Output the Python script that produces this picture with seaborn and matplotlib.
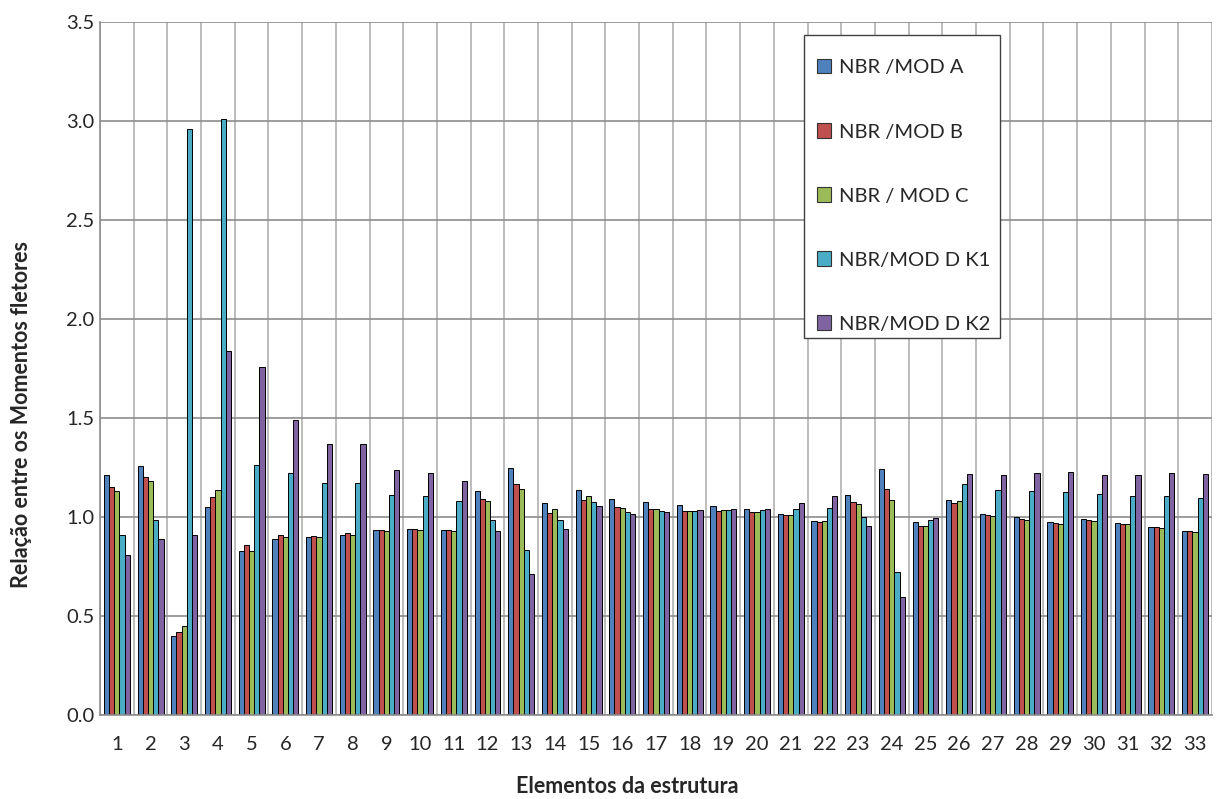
import numpy as np
import pandas as pd
import matplotlib
matplotlib.use("Agg")
import matplotlib.pyplot as plt
from matplotlib.patches import Rectangle
import seaborn as sns

elements = [str(i) for i in range(1, 34)]
series_names = ["NBR /MOD A", "NBR /MOD B", "NBR / MOD C", "NBR/MOD D K1", "NBR/MOD D K2"]

mod_a = [1.21, 1.26, 0.40, 1.05, 0.83, 0.89, 0.90, 0.91, 0.935, 0.94, 0.935,
         1.13, 1.25, 1.07, 1.135, 1.09, 1.075, 1.06, 1.055, 1.04, 1.018, 0.98,
         1.11, 1.245, 0.975, 1.086, 1.018, 0.998, 0.975, 0.99, 0.97, 0.951, 0.931]
mod_b = [1.15, 1.20, 0.42, 1.10, 0.86, 0.91, 0.905, 0.92, 0.935, 0.94, 0.935,
         1.09, 1.165, 1.02, 1.085, 1.05, 1.04, 1.03, 1.03, 1.028, 1.008, 0.975,
         1.075, 1.143, 0.955, 1.07, 1.008, 0.99, 0.97, 0.985, 0.965, 0.951, 0.931]
mod_c = [1.13, 1.18, 0.45, 1.135, 0.83, 0.90, 0.90, 0.91, 0.93, 0.935, 0.93,
         1.08, 1.14, 1.04, 1.105, 1.047, 1.04, 1.03, 1.035, 1.028, 1.008, 0.98,
         1.065, 1.086, 0.955, 1.08, 1.003, 0.985, 0.965, 0.98, 0.965, 0.946, 0.926]
mod_d_k1 = [0.91, 0.985, 2.96, 3.01, 1.265, 1.22, 1.17, 1.17, 1.11, 1.105, 1.08,
            0.985, 0.835, 0.985, 1.075, 1.027, 1.03, 1.03, 1.035, 1.035, 1.04, 1.047,
            0.998, 0.724, 0.985, 1.168, 1.135, 1.13, 1.125, 1.115, 1.105, 1.105, 1.095]
mod_d_k2 = [0.81, 0.89, 0.91, 1.84, 1.76, 1.49, 1.37, 1.37, 1.24, 1.22, 1.18,
            0.93, 0.71, 0.94, 1.055, 1.013, 1.028, 1.035, 1.04, 1.04, 1.07, 1.105,
            0.955, 0.594, 0.993, 1.215, 1.21, 1.224, 1.229, 1.21, 1.21, 1.22, 1.215]

colors = ["#4F81BD", "#C0504D", "#9BBB59", "#4BACC6", "#8064A2"]

df = pd.DataFrame({
    "Elemento": elements * 5,
    "Serie": np.repeat(series_names, len(elements)),
    "Valor": mod_a + mod_b + mod_c + mod_d_k1 + mod_d_k2,
})

sns.set_style("white")
plt.rcParams["font.family"] = ["Lato", "DejaVu Sans"]

fig = plt.figure(figsize=(12.18, 7.99), dpi=100)
ax = fig.add_axes([0.0821, 0.105, 0.9129, 0.8675])

sns.barplot(data=df, x="Elemento", y="Valor", hue="Serie", order=elements,
            hue_order=series_names, palette=colors, saturation=1, width=0.77,
            edgecolor="black", linewidth=0.7, ax=ax, legend=True)

ax.set_ylim(0, 3.5)
ax.set_xlim(-0.5, 32.5)
ax.set_yticks(np.arange(0, 3.51, 0.5))
ax.set_yticklabels([f"{v:.1f}" for v in np.arange(0, 3.51, 0.5)], fontsize=14.5)
ax.set_xticks(range(33))
ax.set_xticklabels(elements, fontsize=14.5)
ax.set_xticks(np.arange(-0.5, 33, 1), minor=True)
ax.tick_params(axis="both", which="both", length=0)
ax.tick_params(axis="x", pad=15)
ax.tick_params(axis="y", pad=4)
ax.set_axisbelow(True)
ax.yaxis.grid(True, color="#8c8c8c", linewidth=1.2)
ax.xaxis.grid(True, which="minor", color="#b0b0b0", linewidth=1.2)
ax.xaxis.grid(False, which="major")
for side in ["left", "bottom"]:
    ax.spines[side].set_color("#8c8c8c")
    ax.spines[side].set_linewidth(1.2)
for side in ["top", "right"]:
    ax.spines[side].set_visible(False)

ax.set_xlabel("Elementos da estrutura", fontsize=15.5, fontweight="bold")
ax.set_ylabel("Relação entre os Momentos fletores", fontsize=15.5, fontweight="bold")
ax.xaxis.set_label_coords(0.474, -0.088)
ax.yaxis.set_label_coords(-0.061, 0.433)

# legend box drawn separately so the padding can match the original
box = Rectangle((804 / 1218, 1 - 338 / 799), 196 / 1218, 303 / 799,
                transform=fig.transFigure, facecolor="white",
                edgecolor="#404040", linewidth=1.0, zorder=4, clip_on=False)
ax.add_patch(box)
leg = ax.legend(loc="upper left", bbox_to_anchor=(0.645, 0.946), fontsize=14.5,
                frameon=False, handlelength=0.7, handleheight=0.7, handletextpad=0.4,
                labelspacing=2.33, borderpad=0, borderaxespad=0)
leg.set_zorder(5)
for h in leg.legend_handles:
    h.set_edgecolor("#333333")
    h.set_linewidth(0.8)

fig.savefig("out.png", dpi=100)
